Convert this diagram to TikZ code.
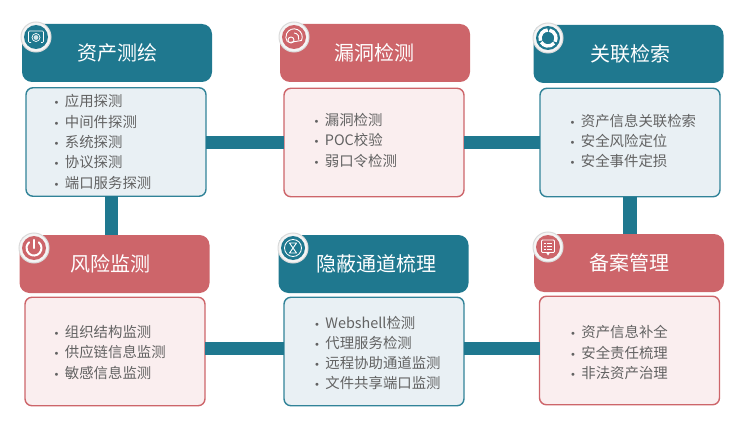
\documentclass[tikz,border=0pt]{standalone}
\usepackage{fontspec}
\setmainfont{Noto Sans CJK SC}
\newfontfamily\bulfont{DejaVu Sans}
\definecolor{teal1}{HTML}{1F788F}
\definecolor{red1}{HTML}{CD656A}
\definecolor{tealbg}{HTML}{E9F0F4}
\definecolor{redbg}{HTML}{FAEEEF}
\definecolor{txt}{HTML}{626262}
\definecolor{ringc}{HTML}{DADADA}
\newcommand\bul{\makebox[11.2pt][l]{\bulfont\fontsize{10}{10}\selectfont •}}
\tikzset{
  x=1pt,y=-1pt,
  head/.style={rounded corners=10pt,minimum width=#1,minimum height=58pt,inner sep=0,outer sep=0,text=white,font=\fontsize{20}{24}\selectfont},
  headteal/.style={head=190pt,fill=teal1},
  headred/.style={head=190pt,fill=red1},
  bodybox/.style={rounded corners=7pt,minimum width=180pt,minimum height=108.5pt,inner sep=0,outer sep=0,line width=1.4pt},
  bodyteal/.style={bodybox,draw=teal1!92!white,fill=tealbg},
  bodyred/.style={bodybox,draw=red1,fill=redbg},
  list/.style={anchor=west,inner sep=0,align=left,text=txt,font=\fontsize{14.4}{20.3}\selectfont},
  title/.style={inner sep=0,text=white,font=\fontsize{20}{24}\selectfont},
  conn/.style={line width=13.5pt,color=teal1},
  ring/.style={circle,minimum size=30pt,inner sep=0,outer sep=0,draw=ringc,line width=1pt,fill=white!96!black},
  disc/.style={circle,minimum size=24pt,inner sep=0,outer sep=0},
  glyph/.style={white,line width=.9pt},
}
\begin{document}
\begin{tikzpicture}
\useasboundingbox (0,0) rectangle (755,436);
% boxes
\node[headteal] (ha) at (117,53) {};
\node[headred]  (hb) at (375,53) {};
\node[headteal] (hc) at (628.5,54) {};
\node[headred]  (hd) at (114.5,264) {};
\node[headteal] (he) at (373.5,264) {};
\node[headred]  (hf) at (629,263) {};
\node[bodyteal] (ba) at (116,142) {};
\node[bodyred]  (bb) at (374,142.5) {};
\node[bodyteal] (bc) at (630,142.5) {};
\node[bodyred]  (bd) at (115,351.5) {};
\node[bodyteal] (be) at (374,351.5) {};
\node[bodyred]  (bf) at (629.5,350.5) {};
% connectors
\draw[conn] ([yshift=-.5pt]ba.east) -- (bb.west);
\draw[conn] (bb.east) -- (bc.west);
\draw[conn] ([yshift=3pt]bd.east) -- ([yshift=3pt]be.west);
\draw[conn] ([yshift=3pt]be.east) -- ([yshift=2pt]bf.west);
\draw[conn] ([xshift=-4.5pt]ba.south) -- ([xshift=-3pt]hd.north);
\draw[conn] (bc.south) -- ([xshift=1pt]hf.north);
% titles
\node[title] (ta) at (117,53) {资产测绘};
\node[title] (tb) at (374,53) {漏洞检测};
\node[title] (tc) at (630,54) {关联检索};
\node[title] (td) at (110,264) {风险监测};
\node[title] (te) at (376,264) {隐蔽通道梳理};
\node[title] (tf) at (629,263) {备案管理};
% lists
\node[list] (la) at (53.5,142) {\bul 应用探测\\\bul 中间件探测\\\bul 系统探测\\\bul 协议探测\\\bul 端口服务探测};
\node[list] (lb) at (313.5,140.5) {\bul 漏洞检测\\\bul POC校验\\\bul 弱口令检测};
\node[list] (lc) at (569.5,141) {\bul 资产信息关联检索\\\bul 安全风险定位\\\bul 安全事件定损};
\node[list] (ld) at (53.5,352.5) {\bul 组织结构监测\\\bul 供应链信息监测\\\bul 敏感信息监测};
\node[list] (le) at (314,353) {\bul Webshell检测\\\bul 代理服务检测\\\bul 远程协助通道监测\\\bul 文件共享端口监测};
\node[list] (lf) at (570,352.5) {\bul 资产信息补全\\\bul 安全责任梳理\\\bul 非法资产治理};
% icons
\node[ring] (ra) at (36,37) {};
\node[disc,fill=teal1] (ia) at (ra) {};
\draw[glyph,line width=.7pt,rounded corners=1pt] ([shift={(-5,5.5)}]ia.center) -- ([shift={(-7.5,5.5)}]ia.center) -- ([shift={(-7.5,-6)}]ia.center) -- ([shift={(7.5,-6)}]ia.center) -- ([shift={(7.5,5.5)}]ia.center) -- ([shift={(5,5.5)}]ia.center);
\draw[glyph,line width=.7pt] ([shift={(0,.5)}]ia.center) circle (4);
\fill[white!80!teal1] ([shift={(0,.5)}]ia.center) circle (2.4);
\node[ring] (rb) at (294,37) {};
\node[disc,fill=red1] (ib) at (rb) {};
\draw[glyph,line cap=round] ([shift={(7.5,3.5)}]ib.center) arc[start angle=25,end angle=-215,radius=8.2];
\draw[glyph] ([shift={(-3,3)}]ib.center) circle (3);
\draw[glyph,line cap=round] ([shift={(-5,5.5)}]ib.center) -- ([shift={(7.5,3.5)}]ib.center);
\draw[glyph] ([shift={(0,-4)}]ib.center) arc[start angle=-90,end angle=20,radius=5];
\node[ring] (rc) at (548,38) {};
\node[disc,fill=teal1] (ic) at (rc) {};
\foreach \aa in {-80,40,160}{
  \draw[white,line width=3.4pt] (ic.center) ++(\aa:8) arc[start angle=\aa,delta angle=108,radius=8];
}
\node[ring] (rd) at (34,248) {};
\node[disc,fill=red1] (id) at (rd) {};
\draw[white,line width=2pt,line cap=round] ([shift={(4.8,-5.7)}]id.center) arc[start angle=-50,end angle=230,radius=7.5];
\draw[white,line width=2.2pt,line cap=round] ([shift={(0,-8)}]id.center) -- ([shift={(0,0)}]id.center);
\node[ring] (re) at (293,248) {};
\node[disc,fill=teal1] (ie) at (re) {};
\draw[glyph,line width=.8pt] (ie.center) circle (8.5);
\draw[glyph,line join=round] ([shift={(-3.5,-5)}]ie.center) -- ([shift={(3.5,-5)}]ie.center) -- ([shift={(-3.5,5)}]ie.center) -- ([shift={(3.5,5)}]ie.center) -- cycle;
\node[ring] (rf) at (548,247) {};
\node[disc,fill=red1] (if) at (rf) {};
\draw[glyph,rounded corners=1pt] ([shift={(-6.5,-7)}]if.center) rectangle ([shift={(6.5,5.5)}]if.center);
\fill[white] ([shift={(-2,5.5)}]if.center) -- ([shift={(2,5.5)}]if.center) -- ([shift={(0,8.5)}]if.center) -- cycle;
\foreach \yy in {-3.5,-.7,2.1}{
  \draw[glyph] ([shift={(-4,\yy)}]if.center) -- ([shift={(-2.5,\yy)}]if.center);
  \draw[glyph] ([shift={(-1,\yy)}]if.center) -- ([shift={(4,\yy)}]if.center);
}
\end{tikzpicture}
\end{document}
